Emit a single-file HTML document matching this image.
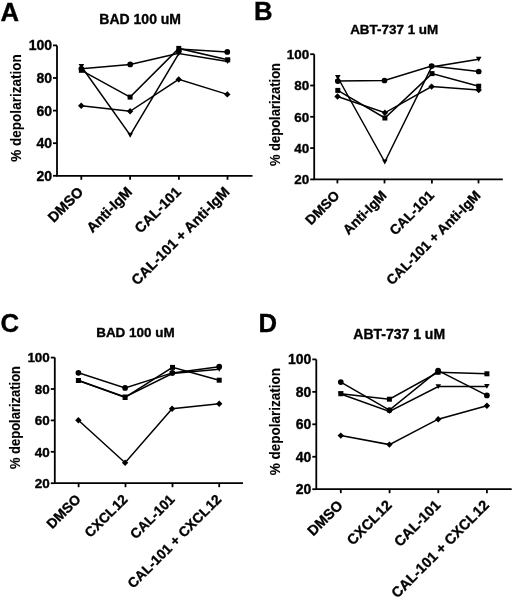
<!DOCTYPE html>
<html><head><meta charset="utf-8"><style>
html,body{margin:0;padding:0;background:#fff;overflow:hidden;}
svg{display:block;filter:grayscale(1);}
text{font-family:"Liberation Sans", sans-serif;fill:#000;stroke:#000;stroke-width:0.35px;}
</style></head><body>
<svg width="520" height="601" viewBox="0 0 520 601">
<rect width="520" height="601" fill="#fff"/>
<text x="0.5" y="21" font-size="25.7" font-weight="bold">A</text>
<text x="140.2" y="24.2" font-size="14.00" font-weight="bold" text-anchor="middle">BAD 100 uM</text>
<path d="M57,45.4 L57,175.8 L252.5,175.8" fill="none" stroke="#000" stroke-width="1.8"/>
<line x1="53" y1="45.4" x2="57" y2="45.4" stroke="#000" stroke-width="1.8"/>
<text x="52.0" y="50.3" font-size="14.00" font-weight="bold" text-anchor="end">100</text>
<line x1="53" y1="78.0" x2="57" y2="78.0" stroke="#000" stroke-width="1.8"/>
<text x="52.0" y="82.9" font-size="14.00" font-weight="bold" text-anchor="end">80</text>
<line x1="53" y1="110.6" x2="57" y2="110.6" stroke="#000" stroke-width="1.8"/>
<text x="52.0" y="115.5" font-size="14.00" font-weight="bold" text-anchor="end">60</text>
<line x1="53" y1="143.20000000000002" x2="57" y2="143.20000000000002" stroke="#000" stroke-width="1.8"/>
<text x="52.0" y="148.10000000000002" font-size="14.00" font-weight="bold" text-anchor="end">40</text>
<line x1="53" y1="175.8" x2="57" y2="175.8" stroke="#000" stroke-width="1.8"/>
<text x="52.0" y="180.70000000000002" font-size="14.00" font-weight="bold" text-anchor="end">20</text>
<line x1="81.3" y1="175.8" x2="81.3" y2="179.8" stroke="#000" stroke-width="1.8"/>
<line x1="130.1" y1="175.8" x2="130.1" y2="179.8" stroke="#000" stroke-width="1.8"/>
<line x1="178.9" y1="175.8" x2="178.9" y2="179.8" stroke="#000" stroke-width="1.8"/>
<line x1="227.5" y1="175.8" x2="227.5" y2="179.8" stroke="#000" stroke-width="1.8"/>
<text transform="translate(20.8,108) rotate(-90) scale(0.93,1)" font-size="14.55" font-weight="bold" text-anchor="middle" style="stroke-width:0.12px">% depolarization</text>
<text transform="translate(84.3,192.8) rotate(-45)" font-size="14.40" font-weight="bold" text-anchor="end">DMSO</text>
<text transform="translate(133.1,192.8) rotate(-45)" font-size="14.40" font-weight="bold" text-anchor="end">Anti-IgM</text>
<text transform="translate(181.9,192.8) rotate(-45)" font-size="14.40" font-weight="bold" text-anchor="end">CAL-101</text>
<text transform="translate(230.5,192.8) rotate(-45)" font-size="14.40" font-weight="bold" text-anchor="end">CAL-101 + Anti-IgM</text>
<path d="M81.4,68.8 L130.2,64.4 L178.8,53.3 M178.8,49.0 L227.3,51.9" fill="none" stroke="#000" stroke-width="1.5" stroke-linejoin="miter"/>
<path d="M81.4,66.5 L130.2,135.2 L178.8,53.6 L227.7,61.5" fill="none" stroke="#000" stroke-width="1.5" stroke-linejoin="miter"/>
<path d="M81.4,70.3 L130.1,97.1 L178.8,48.4 L227.7,59.8" fill="none" stroke="#000" stroke-width="1.5" stroke-linejoin="miter"/>
<path d="M81.2,105.8 L130.1,111.3 L178.7,79.4 L227.3,94.4" fill="none" stroke="#000" stroke-width="1.5" stroke-linejoin="miter"/>
<circle cx="81.4" cy="68.8" r="2.85"/>
<circle cx="130.2" cy="64.4" r="2.85"/>
<circle cx="178.8" cy="51.15" r="2.85"/>
<circle cx="227.3" cy="51.9" r="2.85"/>
<path d="M78.60000000000001,64.064 L84.2,64.064 L81.4,68.936 Z"/>
<path d="M127.39999999999999,132.76399999999998 L133.0,132.76399999999998 L130.2,137.636 Z"/>
<path d="M176.0,51.164 L181.60000000000002,51.164 L178.8,56.036 Z"/>
<path d="M224.89999999999998,59.064 L230.5,59.064 L227.7,63.936 Z"/>
<rect x="78.9" y="67.8" width="5" height="5"/>
<rect x="127.6" y="94.6" width="5" height="5"/>
<rect x="176.3" y="45.9" width="5" height="5"/>
<rect x="225.2" y="57.3" width="5" height="5"/>
<path d="M81.2,102.6 L84.4,105.8 L81.2,109.0 L78.0,105.8 Z"/>
<path d="M130.1,108.1 L133.29999999999998,111.3 L130.1,114.5 L126.89999999999999,111.3 Z"/>
<path d="M178.7,76.2 L181.89999999999998,79.4 L178.7,82.60000000000001 L175.5,79.4 Z"/>
<path d="M227.3,91.2 L230.5,94.4 L227.3,97.60000000000001 L224.10000000000002,94.4 Z"/>
<text x="254" y="20.2" font-size="25.7" font-weight="bold">B</text>
<text x="394.2" y="33.8" font-size="13.44" font-weight="bold" text-anchor="middle">ABT-737 1 uM</text>
<path d="M314.2,54.2 L314.2,179.4 L502.8,179.4" fill="none" stroke="#000" stroke-width="1.8"/>
<line x1="310.2" y1="54.2" x2="314.2" y2="54.2" stroke="#000" stroke-width="1.8"/>
<text x="309.2" y="58.904" font-size="13.44" font-weight="bold" text-anchor="end">100</text>
<line x1="310.2" y1="85.5" x2="314.2" y2="85.5" stroke="#000" stroke-width="1.8"/>
<text x="309.2" y="90.204" font-size="13.44" font-weight="bold" text-anchor="end">80</text>
<line x1="310.2" y1="116.80000000000001" x2="314.2" y2="116.80000000000001" stroke="#000" stroke-width="1.8"/>
<text x="309.2" y="121.504" font-size="13.44" font-weight="bold" text-anchor="end">60</text>
<line x1="310.2" y1="148.10000000000002" x2="314.2" y2="148.10000000000002" stroke="#000" stroke-width="1.8"/>
<text x="309.2" y="152.80400000000003" font-size="13.44" font-weight="bold" text-anchor="end">40</text>
<line x1="310.2" y1="179.4" x2="314.2" y2="179.4" stroke="#000" stroke-width="1.8"/>
<text x="309.2" y="184.104" font-size="13.44" font-weight="bold" text-anchor="end">20</text>
<line x1="337.4" y1="179.4" x2="337.4" y2="183.4" stroke="#000" stroke-width="1.8"/>
<line x1="384.5" y1="179.4" x2="384.5" y2="183.4" stroke="#000" stroke-width="1.8"/>
<line x1="431.9" y1="179.4" x2="431.9" y2="183.4" stroke="#000" stroke-width="1.8"/>
<line x1="478.5" y1="179.4" x2="478.5" y2="183.4" stroke="#000" stroke-width="1.8"/>
<text transform="translate(280,114.5) rotate(-90) scale(0.93,1)" font-size="13.97" font-weight="bold" text-anchor="middle" style="stroke-width:0.12px">% depolarization</text>
<text transform="translate(340.4,196.4) rotate(-45)" font-size="13.82" font-weight="bold" text-anchor="end">DMSO</text>
<text transform="translate(387.5,196.4) rotate(-45)" font-size="13.82" font-weight="bold" text-anchor="end">Anti-IgM</text>
<text transform="translate(434.9,196.4) rotate(-45)" font-size="13.82" font-weight="bold" text-anchor="end">CAL-101</text>
<text transform="translate(481.5,196.4) rotate(-45)" font-size="13.82" font-weight="bold" text-anchor="end">CAL-101 + Anti-IgM</text>
<path d="M337.8,81.1 L384.5,80.5 L431.6,66 L478.7,71.5" fill="none" stroke="#000" stroke-width="1.5" stroke-linejoin="miter"/>
<path d="M337.8,77.5 L384.8,162 L431.6,67 L478.7,59.3" fill="none" stroke="#000" stroke-width="1.5" stroke-linejoin="miter"/>
<path d="M337.8,90.4 L384.9,118 L432,73.6 L478.7,86.2" fill="none" stroke="#000" stroke-width="1.5" stroke-linejoin="miter"/>
<path d="M337.5,96.5 L384.9,112.8 L431.6,86.6 L478.7,90" fill="none" stroke="#000" stroke-width="1.5" stroke-linejoin="miter"/>
<circle cx="337.8" cy="81.1" r="2.85"/>
<circle cx="384.5" cy="80.5" r="2.85"/>
<circle cx="431.6" cy="66" r="2.85"/>
<circle cx="478.7" cy="71.5" r="2.85"/>
<path d="M335.0,75.064 L340.6,75.064 L337.8,79.936 Z"/>
<path d="M382.0,159.564 L387.6,159.564 L384.8,164.436 Z"/>
<path d="M428.8,64.564 L434.40000000000003,64.564 L431.6,69.436 Z"/>
<path d="M475.9,56.864 L481.5,56.864 L478.7,61.736 Z"/>
<rect x="335.3" y="87.9" width="5" height="5"/>
<rect x="382.4" y="115.5" width="5" height="5"/>
<rect x="429.5" y="71.1" width="5" height="5"/>
<rect x="476.2" y="83.7" width="5" height="5"/>
<path d="M337.5,93.3 L340.7,96.5 L337.5,99.7 L334.3,96.5 Z"/>
<path d="M384.9,109.6 L388.09999999999997,112.8 L384.9,116.0 L381.7,112.8 Z"/>
<path d="M431.6,83.39999999999999 L434.8,86.6 L431.6,89.8 L428.40000000000003,86.6 Z"/>
<path d="M478.7,86.8 L481.9,90 L478.7,93.2 L475.5,90 Z"/>
<text x="0.5" y="332" font-size="25.7" font-weight="bold">C</text>
<text x="135.4" y="337.3" font-size="13.44" font-weight="bold" text-anchor="middle">BAD 100 uM</text>
<path d="M54.8,357.6 L54.8,483.2 L243,483.2" fill="none" stroke="#000" stroke-width="1.8"/>
<line x1="50.8" y1="357.6" x2="54.8" y2="357.6" stroke="#000" stroke-width="1.8"/>
<text x="49.8" y="362.30400000000003" font-size="13.44" font-weight="bold" text-anchor="end">100</text>
<line x1="50.8" y1="389.0" x2="54.8" y2="389.0" stroke="#000" stroke-width="1.8"/>
<text x="49.8" y="393.704" font-size="13.44" font-weight="bold" text-anchor="end">80</text>
<line x1="50.8" y1="420.4" x2="54.8" y2="420.4" stroke="#000" stroke-width="1.8"/>
<text x="49.8" y="425.104" font-size="13.44" font-weight="bold" text-anchor="end">60</text>
<line x1="50.8" y1="451.8" x2="54.8" y2="451.8" stroke="#000" stroke-width="1.8"/>
<text x="49.8" y="456.504" font-size="13.44" font-weight="bold" text-anchor="end">40</text>
<line x1="50.8" y1="483.2" x2="54.8" y2="483.2" stroke="#000" stroke-width="1.8"/>
<text x="49.8" y="487.904" font-size="13.44" font-weight="bold" text-anchor="end">20</text>
<line x1="78.6" y1="483.2" x2="78.6" y2="487.2" stroke="#000" stroke-width="1.8"/>
<line x1="125.5" y1="483.2" x2="125.5" y2="487.2" stroke="#000" stroke-width="1.8"/>
<line x1="172.5" y1="483.2" x2="172.5" y2="487.2" stroke="#000" stroke-width="1.8"/>
<line x1="219.2" y1="483.2" x2="219.2" y2="487.2" stroke="#000" stroke-width="1.8"/>
<text transform="translate(20.3,417.5) rotate(-90) scale(0.93,1)" font-size="13.97" font-weight="bold" text-anchor="middle" style="stroke-width:0.12px">% depolarization</text>
<text transform="translate(81.6,500.2) rotate(-45)" font-size="13.82" font-weight="bold" text-anchor="end">DMSO</text>
<text transform="translate(128.5,500.2) rotate(-45)" font-size="13.82" font-weight="bold" text-anchor="end">CXCL<tspan dx="1">12</tspan></text>
<text transform="translate(175.5,500.2) rotate(-45)" font-size="13.82" font-weight="bold" text-anchor="end">CAL-101</text>
<text transform="translate(222.2,500.2) rotate(-45)" font-size="13.82" font-weight="bold" text-anchor="end">CAL-101 + CXCL<tspan dx="1">12</tspan></text>
<path d="M78.4,372.8 L125.1,387.9 L172.3,372.9 L219.2,366.7" fill="none" stroke="#000" stroke-width="1.5" stroke-linejoin="miter"/>
<path d="M78.4,380.5 L125.1,397 L172.3,373.5 L219.2,369.2" fill="none" stroke="#000" stroke-width="1.5" stroke-linejoin="miter"/>
<path d="M78.4,380.5 L125.1,397.5 L172.5,367.4 L219.2,380.2" fill="none" stroke="#000" stroke-width="1.5" stroke-linejoin="miter"/>
<path d="M78.4,420.3 L125.1,462.8 L172.1,408.7 L219.2,403.8" fill="none" stroke="#000" stroke-width="1.5" stroke-linejoin="miter"/>
<circle cx="78.4" cy="372.8" r="2.85"/>
<circle cx="125.1" cy="387.9" r="2.85"/>
<circle cx="172.3" cy="372.9" r="2.85"/>
<circle cx="219.2" cy="366.7" r="2.85"/>
<path d="M75.60000000000001,378.064 L81.2,378.064 L78.4,382.936 Z"/>
<path d="M122.3,394.564 L127.89999999999999,394.564 L125.1,399.436 Z"/>
<path d="M169.5,371.064 L175.10000000000002,371.064 L172.3,375.936 Z"/>
<path d="M216.39999999999998,366.764 L222.0,366.764 L219.2,371.63599999999997 Z"/>
<rect x="75.9" y="378.0" width="5" height="5"/>
<rect x="122.6" y="395.0" width="5" height="5"/>
<rect x="170.0" y="364.9" width="5" height="5"/>
<rect x="216.7" y="377.7" width="5" height="5"/>
<path d="M78.4,417.1 L81.60000000000001,420.3 L78.4,423.5 L75.2,420.3 Z"/>
<path d="M125.1,459.6 L128.29999999999998,462.8 L125.1,466.0 L121.89999999999999,462.8 Z"/>
<path d="M172.1,405.5 L175.29999999999998,408.7 L172.1,411.9 L168.9,408.7 Z"/>
<path d="M219.2,400.6 L222.39999999999998,403.8 L219.2,407.0 L216.0,403.8 Z"/>
<text x="258.5" y="332" font-size="25.7" font-weight="bold">D</text>
<text x="399.2" y="338.5" font-size="14.00" font-weight="bold" text-anchor="middle">ABT-737 1 uM</text>
<path d="M316.3,359.4 L316.3,489.2 L511.7,489.2" fill="none" stroke="#000" stroke-width="1.8"/>
<line x1="312.3" y1="359.4" x2="316.3" y2="359.4" stroke="#000" stroke-width="1.8"/>
<text x="311.3" y="364.29999999999995" font-size="14.00" font-weight="bold" text-anchor="end">100</text>
<line x1="312.3" y1="391.84999999999997" x2="316.3" y2="391.84999999999997" stroke="#000" stroke-width="1.8"/>
<text x="311.3" y="396.74999999999994" font-size="14.00" font-weight="bold" text-anchor="end">80</text>
<line x1="312.3" y1="424.29999999999995" x2="316.3" y2="424.29999999999995" stroke="#000" stroke-width="1.8"/>
<text x="311.3" y="429.19999999999993" font-size="14.00" font-weight="bold" text-anchor="end">60</text>
<line x1="312.3" y1="456.75" x2="316.3" y2="456.75" stroke="#000" stroke-width="1.8"/>
<text x="311.3" y="461.65" font-size="14.00" font-weight="bold" text-anchor="end">40</text>
<line x1="312.3" y1="489.2" x2="316.3" y2="489.2" stroke="#000" stroke-width="1.8"/>
<text x="311.3" y="494.09999999999997" font-size="14.00" font-weight="bold" text-anchor="end">20</text>
<line x1="340.8" y1="489.2" x2="340.8" y2="493.2" stroke="#000" stroke-width="1.8"/>
<line x1="389.6" y1="489.2" x2="389.6" y2="493.2" stroke="#000" stroke-width="1.8"/>
<line x1="438.3" y1="489.2" x2="438.3" y2="493.2" stroke="#000" stroke-width="1.8"/>
<line x1="486.9" y1="489.2" x2="486.9" y2="493.2" stroke="#000" stroke-width="1.8"/>
<text transform="translate(280.3,421.6) rotate(-90) scale(0.93,1)" font-size="14.55" font-weight="bold" text-anchor="middle" style="stroke-width:0.12px">% depolarization</text>
<text transform="translate(343.8,506.2) rotate(-45)" font-size="14.40" font-weight="bold" text-anchor="end">DMSO</text>
<text transform="translate(392.6,506.2) rotate(-45)" font-size="14.40" font-weight="bold" text-anchor="end">CXCL<tspan dx="1">12</tspan></text>
<text transform="translate(441.3,506.2) rotate(-45)" font-size="14.40" font-weight="bold" text-anchor="end">CAL-101</text>
<text transform="translate(489.9,506.2) rotate(-45)" font-size="14.40" font-weight="bold" text-anchor="end">CAL-101 + CXCL<tspan dx="1">12</tspan></text>
<path d="M340.8,382.1 L389.4,410.2 L438.1,370.6 L486.9,395.4" fill="none" stroke="#000" stroke-width="1.5" stroke-linejoin="miter"/>
<path d="M340.8,394 L389.4,411.5 L438.3,386.6 L486.9,386.4" fill="none" stroke="#000" stroke-width="1.5" stroke-linejoin="miter"/>
<path d="M340.8,393.7 L389.4,399.2 L438.1,372.3 L486.9,373.8" fill="none" stroke="#000" stroke-width="1.5" stroke-linejoin="miter"/>
<path d="M340.8,435.6 L389.4,444.6 L438.2,419.2 L486.9,405.7" fill="none" stroke="#000" stroke-width="1.5" stroke-linejoin="miter"/>
<circle cx="340.8" cy="382.1" r="2.85"/>
<circle cx="389.4" cy="410.2" r="2.85"/>
<circle cx="438.1" cy="370.6" r="2.85"/>
<circle cx="486.9" cy="395.4" r="2.85"/>
<path d="M338.0,391.564 L343.6,391.564 L340.8,396.436 Z"/>
<path d="M386.59999999999997,409.064 L392.2,409.064 L389.4,413.936 Z"/>
<path d="M435.5,384.16400000000004 L441.1,384.16400000000004 L438.3,389.036 Z"/>
<path d="M484.09999999999997,383.964 L489.7,383.964 L486.9,388.83599999999996 Z"/>
<rect x="338.3" y="391.2" width="5" height="5"/>
<rect x="386.9" y="396.7" width="5" height="5"/>
<rect x="435.6" y="369.8" width="5" height="5"/>
<rect x="484.4" y="371.3" width="5" height="5"/>
<path d="M340.8,432.40000000000003 L344.0,435.6 L340.8,438.8 L337.6,435.6 Z"/>
<path d="M389.4,441.40000000000003 L392.59999999999997,444.6 L389.4,447.8 L386.2,444.6 Z"/>
<path d="M438.2,416.0 L441.4,419.2 L438.2,422.4 L435.0,419.2 Z"/>
<path d="M486.9,402.5 L490.09999999999997,405.7 L486.9,408.9 L483.7,405.7 Z"/>
</svg>
</body></html>
